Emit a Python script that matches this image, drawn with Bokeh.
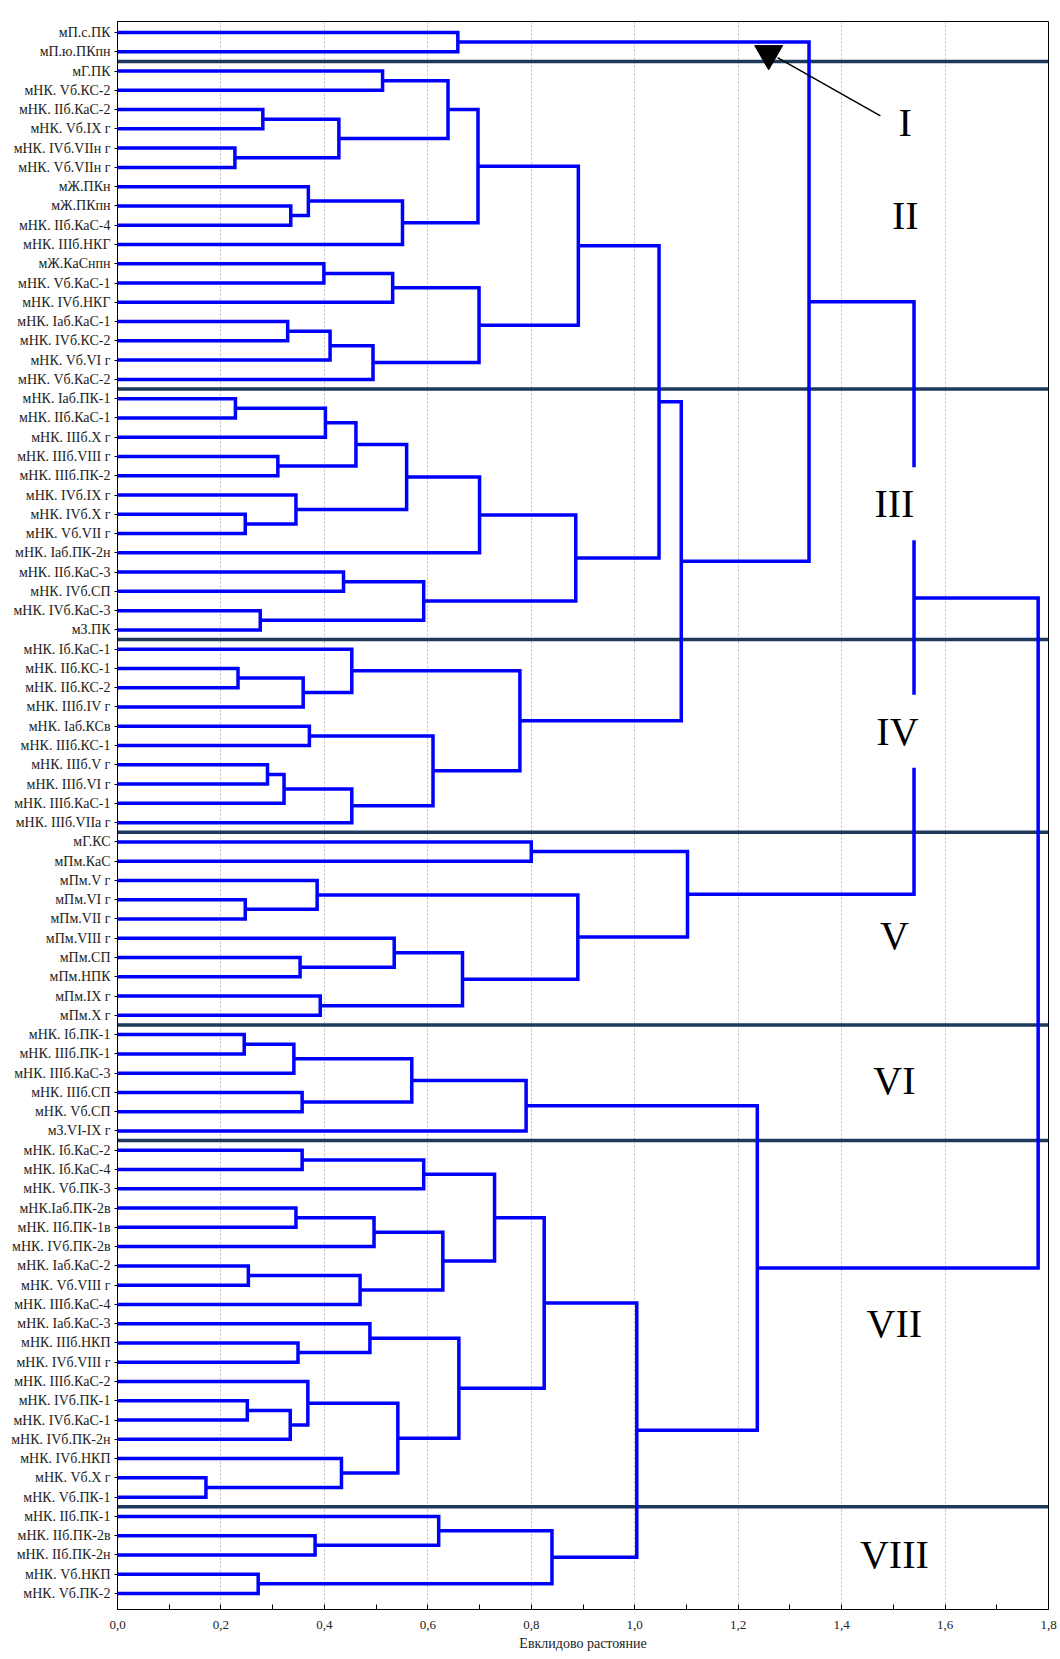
from bokeh.plotting import figure
from bokeh.models import Range1d, FixedTicker, Label
from bokeh.embed import file_html
from bokeh.resources import INLINE

# ---------------- data ----------------
leaf_labels = [
    "мП.с.ПК", "мП.ю.ПКпн", "мГ.ПК", "мНК. Vб.КС-2", "мНК. IIб.КаС-2",
    "мНК. Vб.IX г", "мНК. IVб.VIIн г", "мНК. Vб.VIIн г", "мЖ.ПКн", "мЖ.ПКпн",
    "мНК. IIб.КаС-4", "мНК. IIIб.НКГ", "мЖ.КаСнпн", "мНК. Vб.КаС-1", "мНК. IVб.НКГ",
    "мНК. Iаб.КаС-1", "мНК. IVб.КС-2", "мНК. Vб.VI г", "мНК. Vб.КаС-2", "мНК. Iаб.ПК-1",
    "мНК. IIб.КаС-1", "мНК. IIIб.X г", "мНК. IIIб.VIII г", "мНК. IIIб.ПК-2", "мНК. IVб.IX г",
    "мНК. IVб.X г", "мНК. Vб.VII г", "мНК. Iаб.ПК-2н", "мНК. IIб.КаС-3", "мНК. IVб.СП",
    "мНК. IVб.КаС-3", "мЗ.ПК", "мНК. Iб.КаС-1", "мНК. IIб.КС-1", "мНК. IIб.КС-2",
    "мНК. IIIб.IV г", "мНК. Iаб.КСв", "мНК. IIIб.КС-1", "мНК. IIIб.V г", "мНК. IIIб.VI г",
    "мНК. IIIб.КаС-1", "мНК. IIIб.VIIа г", "мГ.КС", "мПм.КаС", "мПм.V г",
    "мПм.VI г", "мПм.VII г", "мПм.VIII г", "мПм.СП", "мПм.НПК",
    "мПм.IX г", "мПм.X г", "мНК. Iб.ПК-1", "мНК. IIIб.ПК-1", "мНК. IIIб.КаС-3",
    "мНК. IIIб.СП", "мНК. Vб.СП", "мЗ.VI-IX г", "мНК. Iб.КаС-2", "мНК. Iб.КаС-4",
    "мНК. Vб.ПК-3", "мНК.Iаб.ПК-2в", "мНК. IIб.ПК-1в", "мНК. IVб.ПК-2в", "мНК. Iаб.КаС-2",
    "мНК. Vб.VIII г", "мНК. IIIб.КаС-4", "мНК. Iаб.КаС-3", "мНК. IIIб.НКП", "мНК. IVб.VIII г",
    "мНК. IIIб.КаС-2", "мНК. IVб.ПК-1", "мНК. IVб.КаС-1", "мНК. IVб.ПК-2н", "мНК. IVб.НКП",
    "мНК. Vб.X г", "мНК. Vб.ПК-1", "мНК. IIб.ПК-1", "мНК. IIб.ПК-2в", "мНК. IIб.ПК-2н",
    "мНК. Vб.НКП", "мНК. Vб.ПК-2",
]

# merges: ids 0..81 are leaves, merge k gets id 82+k
merge_left = [
    0, 2, 4, 6, 84, 83, 9, 8, 89, 87, 12, 92, 15, 94, 95, 93, 91,
    19, 99, 22, 100, 25, 24, 102, 105, 28, 30, 107, 106, 98,
    33, 112, 32, 36, 38, 116, 117, 115, 114, 111, 82,
    42, 45, 44, 48, 47, 50, 127, 125, 123, 122,
    52, 133, 55, 134, 136,
    58, 138, 61, 140, 64, 142, 141, 139, 68, 67, 71, 148, 70, 75, 74, 150, 147, 145,
    78, 77, 80, 157, 155, 137, 132,
]
merge_right = [
    1, 3, 5, 7, 85, 86, 10, 88, 11, 90, 13, 14, 16, 17, 18, 96, 97,
    20, 21, 23, 101, 26, 103, 104, 27, 29, 31, 108, 109, 110,
    34, 35, 113, 37, 39, 40, 41, 118, 119, 120, 121,
    43, 46, 124, 49, 126, 51, 128, 129, 130, 131,
    53, 54, 56, 135, 57,
    59, 60, 62, 63, 65, 66, 143, 144, 69, 146, 72, 73, 149, 76, 151, 152, 153, 154,
    79, 156, 81, 158, 159, 160, 161,
]
merge_height = [
    0.658, 0.5125, 0.281, 0.227, 0.428, 0.639, 0.335, 0.369, 0.551, 0.697,
    0.399, 0.532, 0.329, 0.411, 0.494, 0.699, 0.891,
    0.228, 0.402, 0.31, 0.461, 0.247, 0.345, 0.559, 0.70, 0.437, 0.276, 0.592, 0.886, 1.047,
    0.233, 0.359, 0.453, 0.371, 0.29, 0.322, 0.453, 0.61, 0.778, 1.09, 1.337,
    0.80, 0.247, 0.386, 0.353, 0.535, 0.392, 0.667, 0.89, 1.102, 1.54,
    0.245, 0.341, 0.357, 0.569, 0.79,
    0.357, 0.592, 0.345, 0.496, 0.253, 0.469, 0.629, 0.729, 0.349, 0.488,
    0.251, 0.334, 0.368, 0.171, 0.433, 0.542, 0.66, 0.825,
    0.382, 0.621, 0.272, 0.84, 1.004, 1.237, 1.78,
]

# separator lines come after these leaf counts
group_breaks = [2, 19, 32, 42, 52, 58, 77]
group_names = ["I", "II", "III", "IV", "V", "VI", "VII", "VIII"]
group_x = [1.523, 1.523, 1.502, 1.508, 1.502, 1.502, 1.502, 1.502]
group_y = [5.67, 10.51, 25.45, 37.26, 47.86, 55.39, 68.0, 79.98]
group_bg = [False, False, True, True, False, False, False, False]

x_ticks = [0.0, 0.1, 0.2, 0.3, 0.4, 0.5, 0.6, 0.7, 0.8, 0.9,
           1.0, 1.1, 1.2, 1.3, 1.4, 1.5, 1.6, 1.7, 1.8]
x_tick_labels = ["0,0", "", "0,2", "", "0,4", "", "0,6", "", "0,8", "",
                 "1,0", "", "1,2", "", "1,4", "", "1,6", "", "1,8"]
grid_ticks = [0.2, 0.4, 0.6, 0.8, 1.0, 1.2, 1.4, 1.6]

marker_point = (1.259, 2.1)
arrow_from = (1.276, 2.3)
arrow_to = (1.475, 5.33)

# ---------------- layout ----------------
n = len(leaf_labels)
SERIF = "Liberation Serif"

p = figure(width=1060, height=1657, output_backend="svg", toolbar_location=None,
           x_range=Range1d(0, 1.8), y_range=Range1d(82.83, 0.43),
           min_border_left=117, min_border_right=12, min_border_top=21,
           min_border_bottom=48)
p.outline_line_color = "black"
p.outline_line_width = 1
p.background_fill_color = "white"
p.border_fill_color = "white"

# node coordinates
node_x = [0.0] * n
node_y = [float(i + 1) for i in range(n)]
xs, ys = [], []
for a, b, h in zip(merge_left, merge_right, merge_height):
    xa, ya, xb, yb = node_x[a], node_y[a], node_x[b], node_y[b]
    xs.append([xa, h, h, xb])
    ys.append([ya, ya, yb, yb])
    node_x.append(h)
    node_y.append((ya + yb) / 2)

# separators
sep_y = [g + 0.5 for g in group_breaks]
p.segment(x0=[0] * len(sep_y), x1=[1.8] * len(sep_y), y0=sep_y, y1=sep_y,
          line_color="#1d3a5c", line_width=3.5)

p.multi_line(xs, ys, line_color="#0000ff", line_width=3.5, line_join="miter")

# arrow and marker for group I
p.line([arrow_from[0], arrow_to[0]], [arrow_from[1], arrow_to[1]],
       line_color="black", line_width=1.5)
p.scatter([marker_point[0]], [marker_point[1]], marker="inverted_triangle",
          size=28, fill_color="black", line_color="black")

for name, gx, gy, bg in zip(group_names, group_x, group_y, group_bg):
    lab = Label(x=gx, y=gy, text=name, text_font=SERIF, text_font_size="40px",
                text_align="center", text_baseline="middle", text_color="black")
    if bg:
        lab.background_fill_color = "white"
        lab.padding = 14
    p.add_layout(lab)

# axes
p.xaxis.ticker = FixedTicker(ticks=x_ticks)
p.xaxis.major_label_overrides = dict(zip(x_ticks, x_tick_labels))
p.xaxis.major_tick_in = 5
p.xaxis.major_tick_out = 0
p.xaxis.minor_tick_line_color = None
p.xaxis.major_label_text_font = SERIF
p.xaxis.major_label_text_font_size = "13px"
p.xaxis.major_label_text_color = "#222222"
p.xaxis.major_label_standoff = 11
p.xaxis.axis_label = "Евклидово растояние"
p.xaxis.axis_label_text_font = SERIF
p.xaxis.axis_label_text_font_size = "14px"
p.xaxis.axis_label_text_font_style = "normal"
p.xaxis.axis_label_text_color = "#222222"
p.xaxis.axis_label_standoff = 4
p.xaxis.axis_line_color = "black"

leaf_pos = list(range(1, n + 1))
p.yaxis.ticker = FixedTicker(ticks=leaf_pos)
p.yaxis.major_label_overrides = dict(zip(leaf_pos, leaf_labels))
p.yaxis.major_label_text_font = SERIF
p.yaxis.major_label_text_font_size = "14px"
p.yaxis.major_label_text_color = "#222222"
p.yaxis.major_tick_in = 0
p.yaxis.major_tick_out = 3
p.yaxis.minor_tick_line_color = None
p.yaxis.major_label_standoff = 4
p.yaxis.axis_line_color = "black"

p.xgrid.ticker = FixedTicker(ticks=grid_ticks)
p.xgrid.grid_line_color = "#bdbdbd"
p.xgrid.grid_line_dash = "2 2"
p.ygrid.grid_line_color = None

open("out.html", "w").write(file_html(p, INLINE))
